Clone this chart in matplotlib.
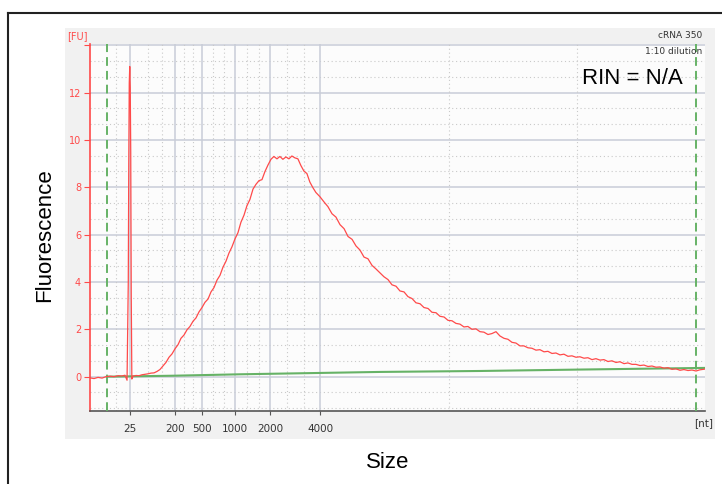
import matplotlib
matplotlib.use('Agg')
import matplotlib.pyplot as plt
from matplotlib.lines import Line2D
from matplotlib.patches import Rectangle

# migration time [s] of the ladder peaks and their sizes
ladder_time = [23.27, 26.95, 29.11, 31.82, 34.69, 38.75]
ladder_size = ['25', '200', '500', '1000', '2000', '4000']
minor_time = [22.18, 24.78, 25.86, 27.67, 28.39, 30.01, 30.92, 32.78, 33.73,
              36.04, 37.40, 49.17, 59.58]
marker_time = [21.42, 69.27]

# sample trace (time [s], fluorescence [FU])
trace_t = [20.04, 20.37, 20.69, 21.02, 21.34, 21.67, 21.99, 22.32, 22.64, 22.88,
           23.05, 23.15, 23.19, 23.23, 23.27, 23.31, 23.35, 23.39, 23.44, 23.53,
           23.78, 24.02, 24.26, 24.51, 24.75, 25.00, 25.24, 25.48, 25.72, 25.97,
           26.21, 26.46, 26.70, 26.95, 27.19, 27.43, 27.68, 27.92, 28.16, 28.41,
           28.65, 28.90, 29.14, 29.38, 29.63, 29.87, 30.11, 30.36, 30.60, 30.84,
           31.09, 31.33, 31.57, 31.82, 32.06, 32.30, 32.55, 32.79, 33.03, 33.28,
           33.52, 33.77, 34.01, 34.25, 34.50, 34.74, 34.98, 35.23, 35.47, 35.71,
           35.96, 36.20, 36.44, 36.69, 36.93, 37.17, 37.42, 37.66, 37.90, 38.15,
           38.39, 38.72, 39.05, 39.37, 39.70, 40.02, 40.35, 40.68, 41.00, 41.33,
           41.65, 41.97, 42.30, 42.62, 42.95, 43.27, 43.60, 43.92, 44.25, 44.57,
           44.90, 45.22, 45.55, 45.87, 46.20, 46.52, 46.85, 47.17, 47.50, 47.82,
           48.15, 48.47, 48.80, 49.12, 49.45, 49.77, 50.09, 50.42, 50.74, 51.07,
           51.39, 51.72, 52.04, 52.37, 52.69, 53.02, 53.34, 53.67, 53.99, 54.32,
           54.64, 54.97, 55.29, 55.62, 55.94, 56.27, 56.59, 56.92, 57.24, 57.57,
           57.89, 58.22, 58.54, 58.87, 59.19, 59.52, 59.84, 60.17, 60.49, 60.82,
           61.14, 61.47, 61.79, 62.12, 62.44, 62.77, 63.09, 63.42, 63.74, 64.07,
           64.39, 64.72, 65.04, 65.37, 65.69, 66.02, 66.34, 66.67, 66.99, 67.32,
           67.64, 67.97, 68.29, 68.62, 68.94, 69.27, 69.59, 70.00]
trace_fu = [-0.05, -0.08, -0.03, -0.06, 0.00, 0.02, 0.00, 0.04, 0.03, 0.06,
            -0.15, 4.0, 9.0, 12.4, 13.1, 12.2, 9.5, 3.5, -0.10, 0.02,
            0.05, 0.04, 0.08, 0.10, 0.12, 0.15, 0.16, 0.22, 0.30, 0.45,
            0.60, 0.82, 0.96, 1.18, 1.35, 1.62, 1.76, 1.98, 2.12, 2.34,
            2.48, 2.74, 2.92, 3.14, 3.28, 3.58, 3.76, 4.08, 4.28, 4.62,
            4.88, 5.22, 5.48, 5.82, 6.08, 6.52, 6.82, 7.22, 7.48, 7.92,
            8.12, 8.28, 8.32, 8.66, 8.94, 9.18, 9.30, 9.20, 9.30, 9.18,
            9.28, 9.20, 9.32, 9.24, 9.20, 8.92, 8.68, 8.58, 8.22, 7.98,
            7.78, 7.60, 7.38, 7.18, 6.88, 6.74, 6.42, 6.25, 5.92, 5.80,
            5.52, 5.35, 5.05, 4.98, 4.70, 4.55, 4.38, 4.22, 4.10, 3.88,
            3.82, 3.62, 3.58, 3.38, 3.30, 3.12, 3.08, 2.92, 2.88, 2.72,
            2.70, 2.55, 2.52, 2.38, 2.36, 2.25, 2.22, 2.10, 2.12, 2.00,
            2.02, 1.90, 1.88, 1.78, 1.82, 1.90, 1.72, 1.62, 1.58, 1.45,
            1.42, 1.30, 1.30, 1.22, 1.20, 1.12, 1.14, 1.05, 1.07, 0.98,
            1.00, 0.92, 0.95, 0.86, 0.88, 0.82, 0.84, 0.78, 0.80, 0.72,
            0.76, 0.70, 0.72, 0.64, 0.67, 0.60, 0.63, 0.55, 0.58, 0.52,
            0.52, 0.47, 0.49, 0.43, 0.45, 0.40, 0.41, 0.36, 0.38, 0.31,
            0.33, 0.27, 0.30, 0.26, 0.28, 0.24, 0.29, 0.32]

# baseline
base_t = [21.42, 26.80, 32.20, 43.60, 51.70, 59.80, 70.00]
base_fu = [0.00, 0.04, 0.10, 0.20, 0.24, 0.30, 0.37]

RED = '#ff4a4a'
GREEN = '#66b266'

fig = plt.figure(figsize=(7.22, 4.84), dpi=100)
fig.patch.set_facecolor('white')

# outer frame and grey panel
fig.add_artist(Line2D([8 / 722, 1], [1 - 13 / 484] * 2, color='#222222', lw=1.5))
fig.add_artist(Line2D([8 / 722] * 2, [0, 1 - 13 / 484], color='#222222', lw=1.5))
fig.add_artist(Rectangle((65 / 722, 1 - 439 / 484), 650 / 722, 411 / 484,
                         facecolor='#f1f1f1', edgecolor='none', zorder=0))

ax = fig.add_axes([89.5 / 722, 73 / 484, 615.5 / 722, 367 / 484])
ax.set_facecolor('#fcfcfc')
ax.set_xlim(20, 70)
ax.set_ylim(-1.45, 14.05)

# grid
yminor = [v for k in range(-1, 7) for v in (2 * k + 2 / 3, 2 * k + 4 / 3)]
for y in yminor:
    ax.axhline(y, color='#c9c9c9', lw=0.8, ls=(0, (1, 2.5)), zorder=1)
for y in range(0, 15, 2):
    ax.axhline(y, color='#c9cdd8', lw=1.1, zorder=1)
for x in minor_time:
    ax.axvline(x, color='#c9c9c9', lw=0.8, ls=(0, (1, 2.5)), zorder=1)
for x in ladder_time:
    ax.axvline(x, color='#c9cdd8', lw=1.1, zorder=1)

for x in marker_time:
    ax.axvline(x, color=GREEN, lw=1.4, ls=(0, (4.5, 2.6)), zorder=3)

ax.plot(base_t, base_fu, color=GREEN, lw=1.5, zorder=4)
ax.plot(trace_t, trace_fu, color=RED, lw=0.9, zorder=5)

for s in ['top', 'right']:
    ax.spines[s].set_visible(False)
ax.spines['left'].set_color(RED)
ax.spines['left'].set_linewidth(1.2)
ax.spines['bottom'].set_color('#555555')
ax.spines['bottom'].set_linewidth(1.2)

ax.set_xticks(ladder_time)
ax.set_xticklabels(ladder_size)
ax.set_yticks(range(0, 15, 2))
ax.set_yticklabels([str(v) for v in range(0, 13, 2)] + [''])
ax.tick_params(axis='x', length=3, color='#555555', labelsize=7.5,
               labelcolor='#333333', pad=6)
ax.tick_params(axis='y', length=4, color=RED, labelsize=7,
               labelcolor=RED, pad=2)

fig.text(77 / 722, 1 - 36 / 484, '[FU]', color=RED, fontsize=7,
         ha='center', va='center')
fig.text(704 / 722, 1 - 423 / 484, '[nt]', color='#333333', fontsize=7.5,
         ha='center', va='center')
fig.text(702 / 722, 1 - 35 / 484, 'cRNA 350', color='#333333', fontsize=6.5,
         ha='right', va='center')
fig.text(702 / 722, 1 - 51 / 484, '1:10 dilution', color='#333333', fontsize=6.5,
         ha='right', va='center')

fig.text(632 / 722, 1 - 78 / 484, 'RIN = N/A', fontsize=16,
         family='Liberation Sans', ha='center', va='center')
fig.text(45 / 722, 1 - 235 / 484, 'Fluorescence', fontsize=16,
         family='Liberation Sans', rotation=90, ha='center', va='center')
fig.text(388 / 722, 1 - 463 / 484, 'Size', fontsize=16,
         family='Liberation Sans', ha='center', va='center')

fig.savefig('out.png', dpi=100)
